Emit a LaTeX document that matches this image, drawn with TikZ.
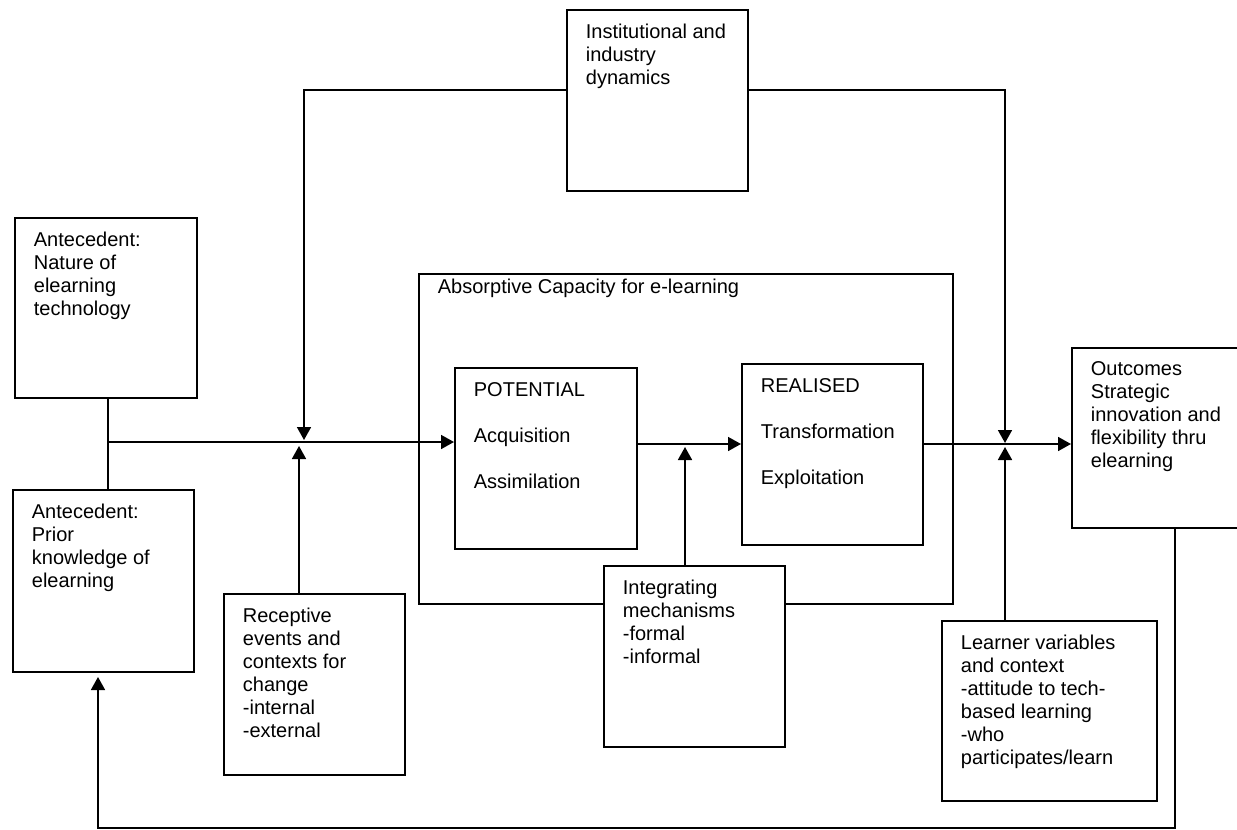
\documentclass[tikz,border=0pt]{standalone}
\usepackage{fontspec}
\setmainfont{Liberation Sans}
\usetikzlibrary{arrows.meta}

% text block inside a box of the given width and height:
% [first-baseline drop]{width}{height}{lines}
\newcommand\boxtext[4][29pt]{%
  \parbox[c][#3][t]{#2}{\raggedright\leftskip=19pt\parindent=0pt
    \rule{0pt}{#1}#4\par}}

\tikzset{
  box/.style={draw, line width=1.8pt, inner sep=0pt, anchor=north west,
    font=\fontsize{20pt}{23pt}\selectfont},
  link/.style={line width=1.7pt},
  arr/.style={line width=1.7pt, -{Triangle[length=13pt,width=14pt]}},
}

\begin{document}
\begin{tikzpicture}[x=1pt, y=-1pt]
\useasboundingbox (0,0) rectangle (1237,830);

% boxes
\node[box] (inst) at (566,9) {\boxtext{181pt}{181pt}{Institutional and\\industry\\dynamics}};
\node[box] (ant1) at (14,217) {\boxtext{182pt}{180pt}{Antecedent:\\Nature of\\elearning\\technology}};
\node[box] (ant2) at (12,489) {\boxtext{181pt}{182pt}{Antecedent:\\Prior\\knowledge of\\elearning}};
\node[box] (rec) at (223,593) {\boxtext{181pt}{181pt}{Receptive\\events and\\contexts for\\change\\-internal\\-external}};
\node[box] (abs) at (418,273) {\boxtext[20pt]{534pt}{330pt}{Absorptive Capacity for e-learning}};
\node[box] (pot) at (454,367) {\boxtext{182pt}{181pt}{POTENTIAL\\[23pt]Acquisition\\[23pt]Assimilation}};
\node[box] (rea) at (741,363) {\boxtext{181pt}{181pt}{REALISED\\[23pt]Transformation\\[23pt]Exploitation}};
\node[box, fill=white] (integ) at (603,565) {\boxtext{181pt}{181pt}{Integrating\\mechanisms\\-formal\\-informal}};
\node[box] (learn) at (941,620) {\boxtext{215pt}{180pt}{Learner variables\\and context\\-attitude to tech-\\based learning\\-who\\participates/learn}};
\node[box] (out) at (1071,347) {\boxtext[28pt]{172pt}{180pt}{Outcomes\\Strategic\\innovation and\\flexibility thru\\elearning}};

% junction and bend points
\coordinate (lbend) at (304,90);
\coordinate (rbend) at (1005,90);
\coordinate (j1top) at (304,440);
\coordinate (j1bot) at (299,446);
\coordinate (split) at (108,442);
\coordinate (mid) at (685,444);
\coordinate (j2) at (685,447);
\coordinate (j3top) at (1005,443);
\coordinate (j3bot) at (1005,447);
\coordinate (fb1) at (1175,828);
\coordinate (fbtip) at (98,677);

% institutional dynamics feeding both junctions
\draw[arr] (inst.west |- lbend) -- (lbend) -- (j1top);
\draw[arr] (inst.east |- rbend) -- (rbend) -- (j3top);

% antecedents into potential capacity
\draw[link] (ant1.south -| split) -- (ant2.north -| split);
\draw[arr] (split) -- (pot.west |- split);
\draw[arr] (rec.north -| j1bot) -- (j1bot);

% potential to realised, realised to outcomes
\draw[arr] (pot.east |- mid) -- (rea.west |- mid);
\draw[arr] (integ.north -| j2) -- (j2);
\draw[arr] (rea.east |- mid) -- (out.west |- mid);
\draw[arr] (learn.north -| j3bot) -- (j3bot);

% feedback loop from outcomes to prior knowledge
\draw[arr] (out.south -| fb1) -- (fb1) -| (fbtip);
\end{tikzpicture}
\end{document}
